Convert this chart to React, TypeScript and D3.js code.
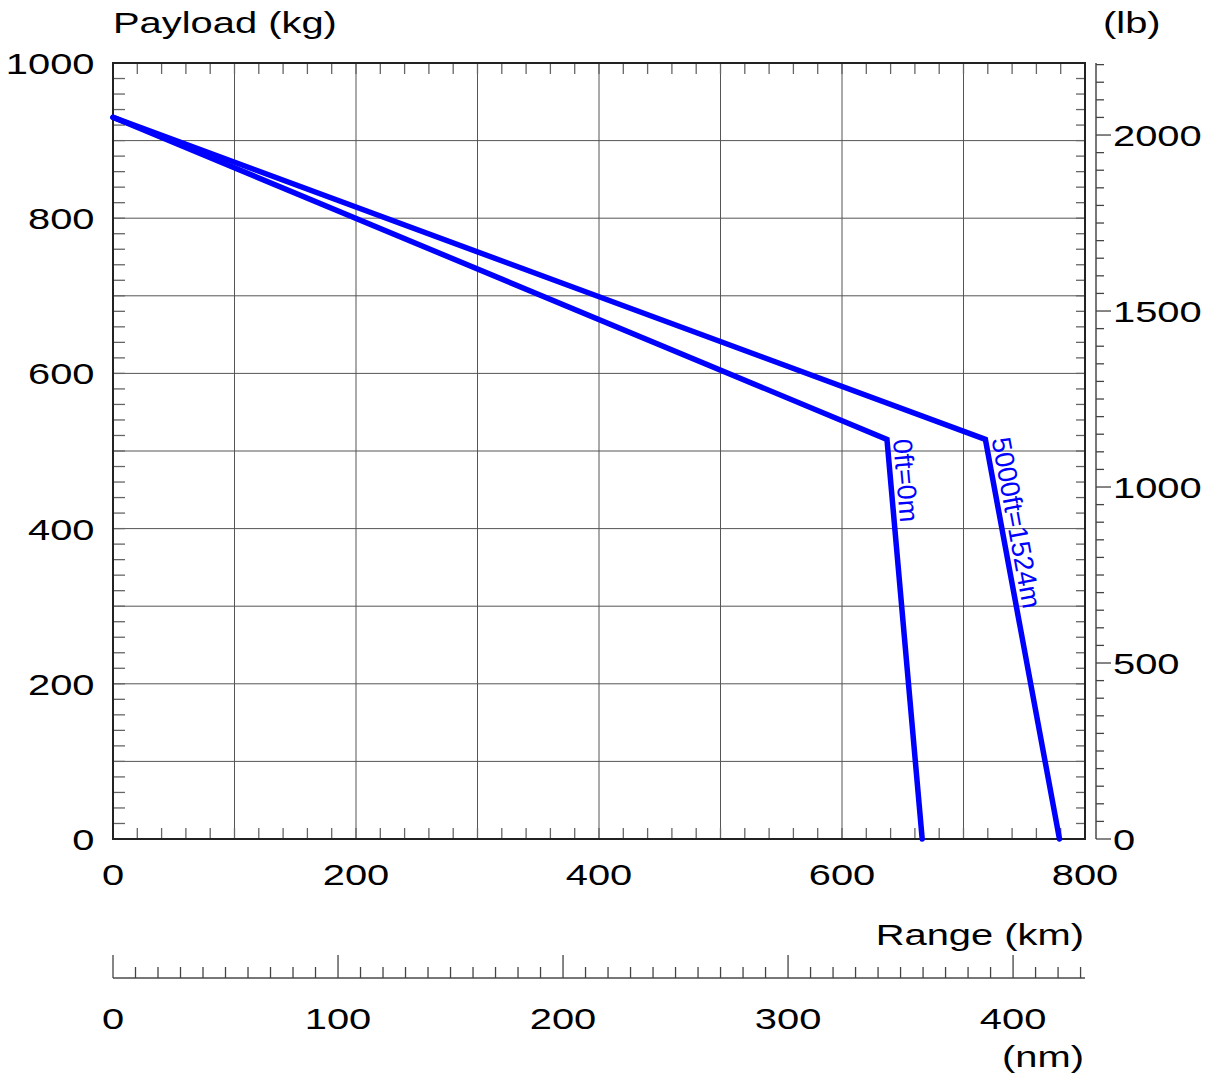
import React from "react";
import * as d3 from "d3";

const seriesLabels = ["0ft=0m", "5000ft=1524m"];
const rangeKm0 = [0, 637, 666];
const payloadKg0 = [930, 515, 0];
const rangeKm1 = [0, 718, 779];
const payloadKg1 = [930, 515, 0];

const kmTicks = [0, 200, 400, 600, 800];
const kgTicks = [0, 200, 400, 600, 800, 1000];
const lbTicks = [0, 500, 1000, 1500, 2000];
const nmTicks = [0, 100, 200, 300, 400];

const W = 1215;
const H = 1077;
const FONT = "'Liberation Sans', Arial, Helvetica, sans-serif";
const SX = 1.33;
const FS = 30;

function T({ x, y, anchor = "start", children }: any) {
  return (
    <text
      transform={`translate(${x},${y}) scale(${SX},1)`}
      textAnchor={anchor}
      fontFamily={FONT}
      fontSize={FS}
      fill="#000"
    >
      {children}
    </text>
  );
}

export default function App() {
  const x = d3.scaleLinear().domain([0, 800]).range([113, 1085]);
  const y = d3.scaleLinear().domain([0, 1000]).range([839, 63]);
  const yLb = d3.scaleLinear().domain([0, 1000 / 0.45359237]).range([839, 63]);
  const xNm = d3.scaleLinear().domain([0, 800 / 1.852]).range([113, 1085]);

  const line = d3
    .line<[number, number]>()
    .x((d) => x(d[0]))
    .y((d) => y(d[1]));

  const series = [
    { label: seriesLabels[0], pts: rangeKm0.map((r, i) => [r, payloadKg0[i]] as [number, number]) },
    { label: seriesLabels[1], pts: rangeKm1.map((r, i) => [r, payloadKg1[i]] as [number, number]) },
  ];

  const grid100x = d3.range(100, 800, 100);
  const grid100y = d3.range(100, 1000, 100);
  const minorX = d3.range(0, 801, 20);
  const minorY = d3.range(0, 1001, 20);
  const lbMinor = d3.range(0, 2201, 50);
  const nmMinor = d3.range(0, 431, 10);

  const [x0, x1] = x.range();
  const [y0, y1] = y.range();

  return (
    <svg
      width={W}
      height={H}
      style={{ position: "absolute", left: 0, top: 0, background: "#fff" }}
    >
      <rect x={0} y={0} width={W} height={H} fill="#fff" />
      {/* grid */}
      <g stroke="#555" strokeWidth={1}>
        {grid100x.map((v) => (
          <line key={"gx" + v} x1={x(v)} x2={x(v)} y1={y1} y2={y0} />
        ))}
        {grid100y.map((v) => (
          <line key={"gy" + v} x1={x0} x2={x1} y1={y(v)} y2={y(v)} />
        ))}
      </g>
      {/* minor ticks on plot frame */}
      <g stroke="#666" strokeWidth={1.3}>
        {minorX.map((v) => (
          <g key={"mx" + v}>
            <line x1={x(v)} x2={x(v)} y1={y0} y2={y0 - 11} />
            <line x1={x(v)} x2={x(v)} y1={y1} y2={y1 + 11} />
          </g>
        ))}
        {minorY.map((v) => (
          <g key={"my" + v}>
            <line x1={x0} x2={x0 + 12} y1={y(v)} y2={y(v)} />
            <line x1={x1} x2={x1 - 9} y1={y(v)} y2={y(v)} />
          </g>
        ))}
      </g>
      {/* frame */}
      <rect
        x={x0}
        y={y1}
        width={x1 - x0}
        height={y0 - y1}
        fill="none"
        stroke="#222"
        strokeWidth={2}
      />
      {/* lines */}
      {series.map((s, i) => (
        <path
          key={"s" + i}
          d={line(s.pts) || ""}
          fill="none"
          stroke="#0000ff"
          strokeWidth={5.5}
          strokeLinecap="round"
          strokeLinejoin="miter"
        />
      ))}
      {/* line labels */}
      {series.map((s, i) => {
        const a = s.pts[1];
        const b = s.pts[2];
        const ax = x(a[0]);
        const ay = y(a[1]);
        const ang = (Math.atan2(y(b[1]) - ay, x(b[0]) - ax) * 180) / Math.PI;
        return (
          <text
            key={"l" + i}
            transform={`translate(${ax},${ay}) rotate(${ang})`}
            x={1}
            y={-6}
            fontFamily={FONT}
            fontSize={27}
            fill="#0000ff"
          >
            {s.label}
          </text>
        );
      })}
      {/* left labels */}
      {kgTicks.map((v) => (
        <T key={"kl" + v} x={94.5} y={y(v) + 11} anchor="end">
          {v}
        </T>
      ))}
      <T x={113} y={33}>Payload (kg)</T>
      <T x={1103} y={33}>(lb)</T>
      {/* km labels */}
      {kmTicks.map((v) => (
        <T key={"xl" + v} x={x(v)} y={885} anchor="middle">
          {v}
        </T>
      ))}
      <T x={1084} y={945} anchor="end">Range (km)</T>
      {/* lb axis */}
      <line x1={1096} x2={1096} y1={y1} y2={y0} stroke="#777" strokeWidth={2} />
      <g stroke="#444" strokeWidth={1.3}>
        {lbMinor.map((v) => (
          <line
            key={"lb" + v}
            x1={1096}
            x2={v % 500 === 0 ? 1111 : 1104}
            y1={yLb(v)}
            y2={yLb(v)}
          />
        ))}
      </g>
      {lbTicks.map((v) => (
        <T key={"lbl" + v} x={1113} y={yLb(v) + 11}>
          {v}
        </T>
      ))}
      {/* nm axis */}
      <line x1={x0} x2={x1} y1={978} y2={978} stroke="#777" strokeWidth={2} />
      <g stroke="#444" strokeWidth={1.3}>
        {nmMinor.map((v) => (
          <line
            key={"nm" + v}
            x1={xNm(v)}
            x2={xNm(v)}
            y1={978}
            y2={v % 100 === 0 ? 955 : 967}
          />
        ))}
      </g>
      {nmTicks.map((v) => (
        <T key={"nml" + v} x={xNm(v)} y={1029} anchor="middle">
          {v}
        </T>
      ))}
      <T x={1084} y={1067} anchor="end">(nm)</T>
    </svg>
  );
}
